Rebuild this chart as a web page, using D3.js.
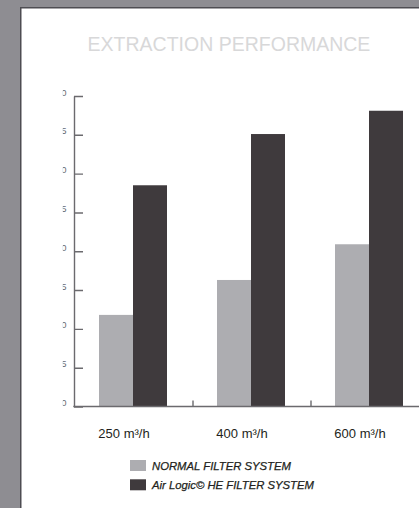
<!DOCTYPE html>
<html>
<head>
<meta charset="utf-8">
<script src="https://cdn.jsdelivr.net/npm/d3@7"></script>
<style>
  html, body { margin: 0; padding: 0; background: #8e8d92; }
  svg { display: block; }
  text { font-family: "Liberation Sans", Arial, Helvetica, sans-serif; }
</style>
</head>
<body>
<svg id="chart" width="419" height="508"></svg>
<script>
const title = "EXTRACTION PERFORMANCE";
const categories = ["250 m³/h", "400 m³/h", "600 m³/h"];
const seriesNames = ["NORMAL FILTER SYSTEM", "Air Logic© HE FILTER SYSTEM"];
const normalValues = [11.8, 16.3, 20.9];
const airLogicValues = [28.5, 35.1, 38.1];
const yTickValues = [0, 5, 10, 15, 20, 25, 30, 35, 40];
const seriesColors = ["#adadb1", "#3f3a3d"];

const svg = d3.select("#chart");
const W = 419, H = 508;

// background + white panel
svg.append("rect").attr("width", W).attr("height", H).attr("fill", "#8e8d92");
svg.append("rect")
  .attr("x", 20.75).attr("y", 7.75).attr("width", 410).attr("height", 510)
  .attr("fill", "#ffffff").attr("stroke", "#4e4d52").attr("stroke-width", 1.5);

// title
svg.append("text")
  .attr("x", 229).attr("y", 51)
  .attr("text-anchor", "middle")
  .attr("font-size", 19.5)
  .attr("fill", "#d8d8d9")
  .text(title);

const x0 = 74, baseY = 406.5, topY = 96;
const x = d3.scaleBand().domain(categories).range([x0, 428]).padding(0);
const xs = d3.scaleBand().domain(seriesNames).range([0, 68]).padding(0);
const y = d3.scaleLinear().domain([0, 40]).range([baseY, topY]);

const seriesData = [normalValues, airLogicValues];

// bars
const groups = svg.append("g").selectAll("g")
  .data(categories).join("g")
  .attr("transform", d => `translate(${x(d) + x.bandwidth() / 2 - 34},0)`);

groups.selectAll("rect")
  .data((c, i) => seriesNames.map((s, j) => ({ s, j, v: seriesData[j][i] })))
  .join("rect")
  .attr("x", d => xs(d.s))
  .attr("width", xs.bandwidth())
  .attr("y", d => y(d.v))
  .attr("height", d => baseY - y(d.v))
  .attr("fill", d => seriesColors[d.j]);

// clip for y labels (cut off on the left)
svg.append("defs").append("clipPath").attr("id", "yclip")
  .append("rect").attr("x", 62.8).attr("y", 0).attr("width", 400).attr("height", H);

// y axis
const yAxis = d3.axisLeft(y)
  .tickValues(yTickValues)
  .tickFormat(d3.format("d"))
  .tickSizeInner(-9)
  .tickSizeOuter(0)
  .tickPadding(7.5);

const clipG = svg.append("g").attr("clip-path", "url(#yclip)");
const gy = clipG.append("g")
  .attr("transform", `translate(${x0},0)`)
  .call(yAxis);
gy.select(".domain").attr("stroke", "#6b6a6e").attr("stroke-width", 1.4);
gy.selectAll(".tick line").attr("stroke", "#6b6a6e").attr("stroke-width", 1.4);
gy.selectAll(".tick text")
  .attr("font-size", 9.5)
  .attr("fill", "#6b6a6e")
  .attr("dy", "-0.1em")
  .attr("font-family", "\"Liberation Sans\", Arial, sans-serif");

// x axis baseline
svg.append("line")
  .attr("x1", x0 - 0.7).attr("x2", W)
  .attr("y1", baseY).attr("y2", baseY)
  .attr("stroke", "#6b6a6e").attr("stroke-width", 1.4);

// separator ticks between categories (pointing up)
svg.append("g").selectAll("line")
  .data(categories.slice(1)).join("line")
  .attr("x1", d => x(d) + 1).attr("x2", d => x(d) + 1)
  .attr("y1", baseY).attr("y2", baseY - 6)
  .attr("stroke", "#6b6a6e").attr("stroke-width", 1.4);

// category labels
svg.append("g").selectAll("text")
  .data(categories).join("text")
  .attr("x", d => x(d) + x.bandwidth() / 2 - 9)
  .attr("y", 438)
  .attr("text-anchor", "middle")
  .attr("font-size", 13)
  .attr("fill", "#231f20")
  .text(d => d);

// legend
const legend = svg.append("g").selectAll("g")
  .data(seriesNames).join("g")
  .attr("transform", (d, i) => `translate(130,${460 + i * 19.3})`);
legend.append("rect")
  .attr("width", 16).attr("height", 11)
  .attr("fill", (d, i) => seriesColors[i]);
legend.append("text")
  .attr("x", 22).attr("y", 10.2)
  .attr("font-size", 11.3)
  .attr("font-style", "italic")
  .attr("fill", "#231f20")
  .attr("stroke", "#231f20")
  .attr("stroke-width", 0.25)
  .text(d => d);
</script>
</body>
</html>
